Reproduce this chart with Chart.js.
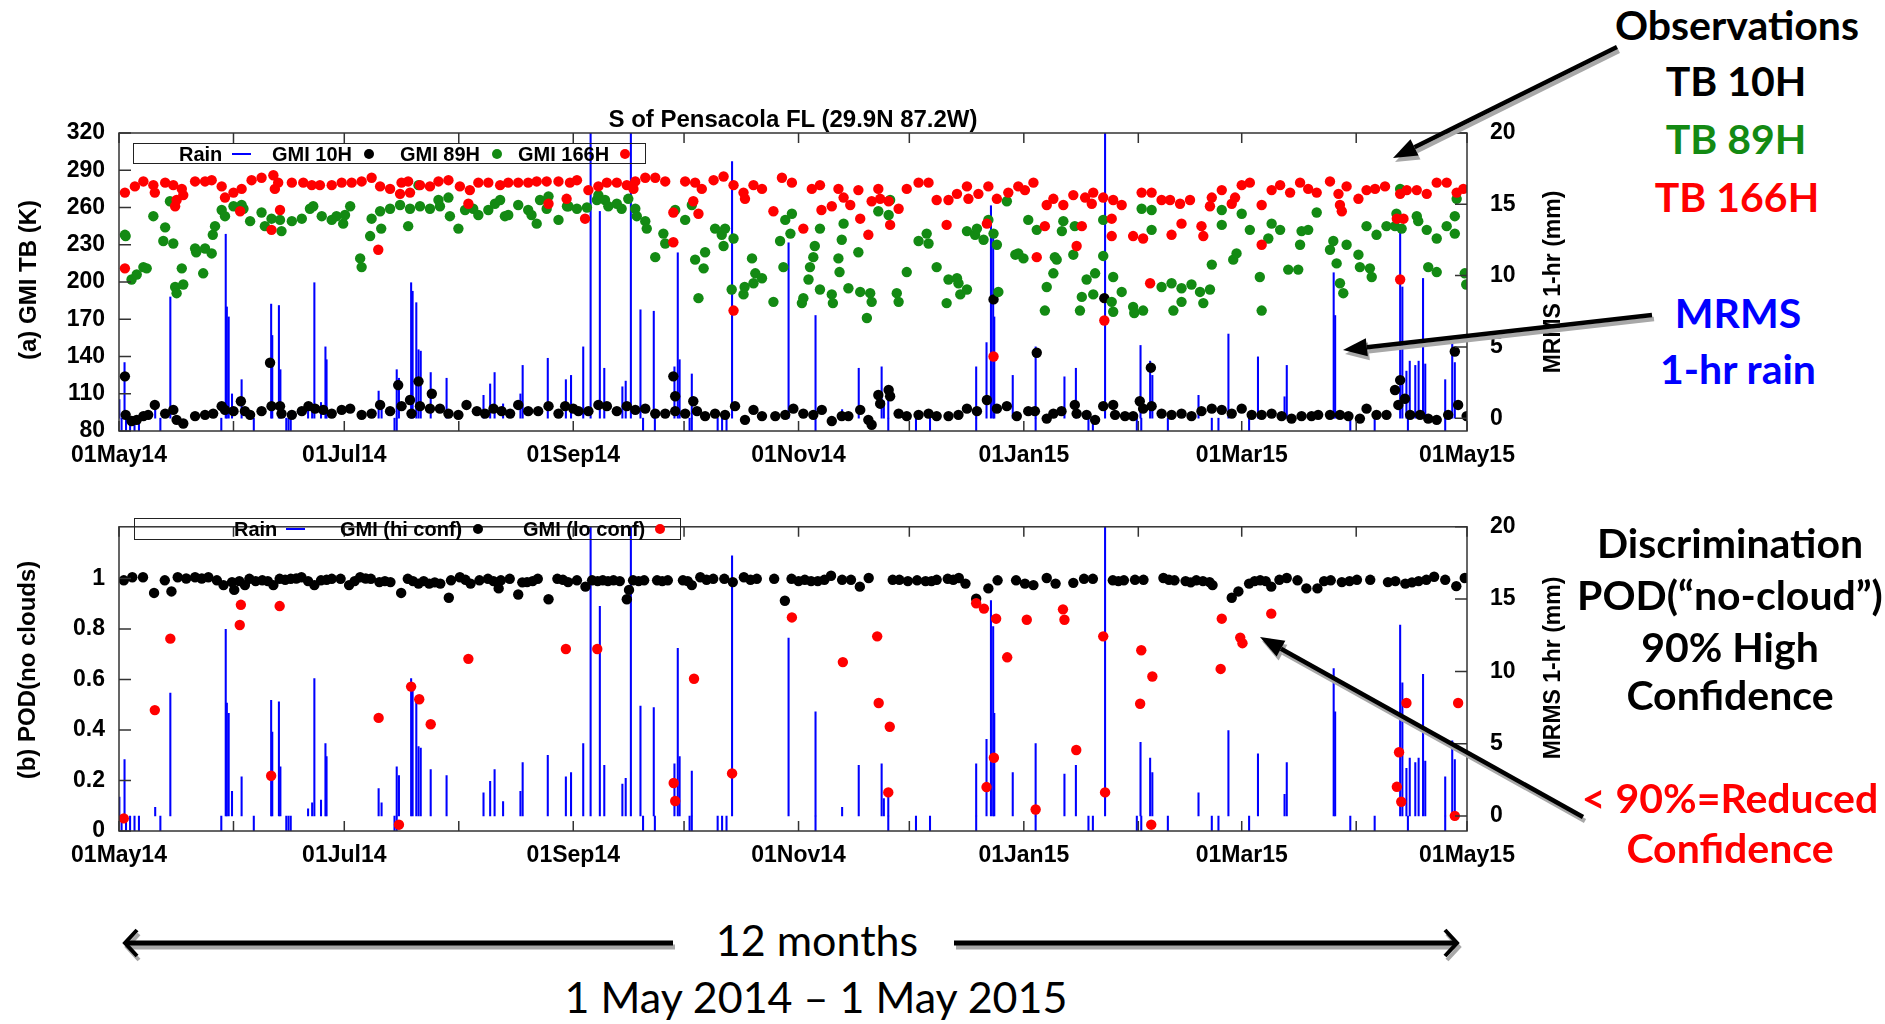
<!DOCTYPE html>
<html>
<head>
<meta charset="utf-8">
<title>GMI TB and POD, S of Pensacola FL</title>
<script src="https://cdn.jsdelivr.net/npm/chart.js@4.4.1/dist/chart.umd.min.js"></script>
<style>
  body { margin: 0; background: #fff; width: 1885px; height: 1024px; position: relative; overflow: hidden;
         font-family: "Liberation Sans", Arial, sans-serif; }
  canvas { position: absolute; left: 0; }
  #cA { top: 90px; }
  #cB { top: 490px; }
  .t { position: absolute; white-space: nowrap; transform: translate(-50%, -50%); line-height: 1; }
  .rot { transform: translate(-50%, -50%) rotate(-90deg); }
  .gp { font-weight: bold; font-size: 24px; color: #000; }
  .note { font-family: Lato, "Open Sans", sans-serif; font-weight: 700; font-size: 41px; }
  .big { font-family: Lato, "Open Sans", sans-serif; font-weight: 400; font-size: 43px; color: #000; }
  .box { position: absolute; border: 1.5px solid #222; box-sizing: border-box; }
  .lt { position: absolute; font-weight: bold; font-size: 20px; line-height: 1; transform: translateY(-50%); white-space: nowrap; }
  .dot { position: absolute; width: 10px; height: 10px; border-radius: 50%; transform: translate(-50%, -50%); }
  .ln { position: absolute; height: 2px; background: #0000ff; transform: translateY(-50%); }
  svg { position: absolute; left: 0; top: 0; }
</style>
</head>
<body>
<canvas id="cA" width="1600" height="390"></canvas>
<canvas id="cB" width="1600" height="390"></canvas>

<!-- panel (a) texts and legend -->
<div class="t gp" style="left:793px;top:119px;">S of Pensacola FL (29.9N 87.2W)</div>
<div class="t gp rot" style="left:28px;top:280px;">(a) GMI TB (K)</div>
<div class="t gp rot" style="left:1552px;top:282px;font-size:23px;">MRMS 1-hr (mm)</div>
<div class="box" style="left:133px;top:143px;width:513px;height:21px;"></div>
<div class="lt" style="left:179px;top:154px;">Rain</div>
<div class="ln" style="left:232px;top:154px;width:19px;"></div>
<div class="lt" style="left:272px;top:154px;">GMI 10H</div>
<div class="dot" style="left:369px;top:154px;background:#000;"></div>
<div class="lt" style="left:400px;top:154px;">GMI 89H</div>
<div class="dot" style="left:497px;top:154px;background:#138a13;"></div>
<div class="lt" style="left:518px;top:154px;">GMI 166H</div>
<div class="dot" style="left:625px;top:154px;background:#ff0000;"></div>

<!-- panel (b) texts and legend -->
<div class="t gp rot" style="left:27px;top:670px;">(b) POD(no clouds)</div>
<div class="t gp rot" style="left:1552px;top:668px;font-size:23px;">MRMS 1-hr (mm)</div>
<div class="box" style="left:134px;top:518px;width:547px;height:22px;"></div>
<div class="lt" style="left:234px;top:529px;">Rain</div>
<div class="ln" style="left:286px;top:529px;width:19px;"></div>
<div class="lt" style="left:340px;top:529px;">GMI (hi conf)</div>
<div class="dot" style="left:478px;top:529px;background:#000;"></div>
<div class="lt" style="left:523px;top:529px;">GMI (lo conf)</div>
<div class="dot" style="left:660px;top:529px;background:#ff0000;"></div>

<!-- notes on the right -->
<div class="t note" style="left:1737px;top:24px;color:#000;">Observations</div>
<div class="t note" style="left:1736px;top:80px;color:#000;">TB 10H</div>
<div class="t note" style="left:1736px;top:138px;color:#138a13;">TB 89H</div>
<div class="t note" style="left:1737px;top:196px;color:#ff0000;">TB 166H</div>
<div class="t note" style="left:1738px;top:312px;color:#0000ff;">MRMS</div>
<div class="t note" style="left:1738px;top:368px;color:#0000ff;">1-hr rain</div>
<div class="t note" style="left:1730px;top:542px;color:#000;">Discrimination</div>
<div class="t note" style="left:1730px;top:594px;color:#000;">POD(“no-cloud”)</div>
<div class="t note" style="left:1730px;top:646px;color:#000;">90% High</div>
<div class="t note" style="left:1730px;top:694px;color:#000;">Confidence</div>
<div class="t note" style="left:1730px;top:797px;color:#ff0000;">&lt; 90%=Reduced</div>
<div class="t note" style="left:1730px;top:847px;color:#ff0000;">Confidence</div>

<!-- time span below -->
<div class="t big" style="left:817px;top:939px;">12 months</div>
<div class="t big" style="left:816px;top:996px;">1 May 2014 – 1 May 2015</div>

<svg id="arrows" width="1885" height="1024"></svg>

<script>
// x axis is days since 01 May 2014
const monthDays = [0, 31, 61, 92, 123, 153, 184, 214, 245, 276, 304, 335, 365];
const monthLabels = ['01May14', '', '01Jul14', '', '01Sep14', '', '01Nov14', '', '01Jan15', '', '01Mar15', '', '01May15'];
const tbTicks = [80, 110, 140, 170, 200, 230, 260, 290, 320];
const podTicks = [0, 0.2, 0.4, 0.6, 0.8, 1];
const podLabels = ['0', '0.2', '0.4', '0.6', '0.8', '1'];
const rainTicks = [0, 5, 10, 15, 20];

// GMI brightness temperatures [day, K]
const tb10 = [[1.6,124],[1.8,93],[3.4,88],[4.8,89],[6.6,92],[7.9,93],[9.7,101],[12.5,94],[14.7,97],[15.6,89],[17.4,86],[20.6,92],[23.3,93],[25.5,94],[27.8,100],[28.7,97],[31.0,96],[33.0,104],[34.1,96],[35.5,93],[38.6,96],[40.9,135],[41.3,100],[43.6,100],[44.0,94],[46.8,93],[49.5,96],[51.3,100],[53.1,98],[55.3,97],[57.6,94],[60.3,97],[62.6,98],[65.7,93],[68.4,94],[70.7,101],[73.4,96],[75.6,117],[76.5,100],[78.8,105],[79.2,94],[81.1,120],[81.5,100],[84.2,98],[84.7,110],[86.9,98],[89.2,94],[91.9,93],[94.1,101],[96.9,96],[99.1,94],[101.4,98],[103.6,96],[105.9,94],[108.1,101],[110.8,96],[113.5,96],[116.3,100],[119.0,94],[120.8,100],[123.0,98],[124.4,96],[127.1,96],[129.8,101],[132.1,100],[134.8,96],[137.5,100],[139.8,97],[142.5,98],[145.2,94],[147.9,94],[150.1,124],[150.6,108],[150.6,96],[153.3,94],[155.5,104],[156.5,96],[158.7,92],[161.4,94],[164.1,93],[166.8,100],[169.5,89],[171.8,97],[174.1,92],[177.7,92],[180.4,93],[182.6,98],[185.3,94],[188.0,93],[190.3,97],[193.0,88],[195.7,92],[197.5,92],[200.7,97],[202.9,89],[203.8,85],[205.6,109],[206.1,102],[208.4,113],[208.8,108],[211.1,94],[213.3,92],[216.5,93],[219.2,94],[221.4,92],[224.6,92],[227.3,93],[229.6,98],[232.3,96],[235.0,105],[236.8,186],[237.7,98],[240.4,100],[243.1,92],[246.2,96],[248.0,96],[248.5,143],[251.2,90],[253.0,94],[255.2,96],[258.8,101],[259.3,94],[262.0,93],[264.3,89],[266.5,100],[266.8,187],[269.2,101],[269.7,93],[272.4,92],[274.6,92],[276.4,104],[277.3,98],[279.4,131],[279.6,100],[282.3,94],[285.0,93],[287.7,94],[290.4,92],[293.1,96],[295.9,98],[298.6,97],[301.3,94],[304.0,98],[306.7,93],[309.4,93],[312.1,94],[314.8,92],[317.5,90],[320.2,92],[322.9,92],[324.7,93],[327.9,93],[330.6,93],[332.9,92],[336.0,90],[337.8,98],[340.5,93],[343.2,93],[345.5,113],[346.4,101],[346.9,121],[348.2,106],[349.6,93],[352.3,93],[354.5,90],[356.8,89],[359.9,93],[361.7,144],[362.6,101],[364.9,92]];

const tb89 = [[1.6,238],[1.8,237],[3.4,202],[4.8,206],[6.6,212],[7.5,211],[9.3,253],[12.0,233],[12.5,244],[13.8,265],[14.7,231],[15.2,196],[15.6,191],[17.0,211],[17.4,198],[20.6,227],[20.9,224],[22.8,207],[23.3,227],[25.1,223],[25.4,238],[26.0,245],[27.8,258],[28.7,253],[31.0,261],[33.2,262],[33.7,259],[35.5,249],[38.6,256],[39.5,245],[41.3,251],[43.6,250],[44.0,241],[46.8,249],[49.5,251],[51.7,259],[52.6,261],[54.9,253],[57.6,250],[58.9,253],[60.7,247],[61.2,254],[62.6,261],[65.3,219],[65.7,212],[68.0,237],[68.4,251],[70.7,257],[71.0,243],[73.4,259],[76.1,262],[78.3,245],[78.8,259],[81.1,278],[81.5,261],[84.2,259],[86.5,266],[86.9,261],[89.2,268],[89.6,253],[91.9,243],[93.7,258],[95.9,259],[97.3,254],[100.0,258],[101.8,263],[103.2,266],[104.5,253],[105.4,254],[108.1,262],[110.8,258],[111.7,254],[113.1,247],[114.0,266],[115.8,259],[116.3,269],[119.0,250],[121.3,261],[121.7,261],[124.0,259],[126.7,260],[129.4,266],[129.8,270],[131.6,266],[132.5,261],[134.8,263],[136.1,259],[137.9,267],[139.8,259],[140.2,253],[142.5,249],[142.9,243],[145.2,220],[147.4,239],[147.9,231],[150.6,258],[153.3,250],[155.1,262],[156.0,218],[156.9,187],[158.3,211],[158.7,224],[161.4,243],[163.2,238],[163.7,229],[164.1,243],[165.9,194],[166.4,235],[169.1,190],[169.4,196],[171.4,219],[171.8,199],[172.3,207],[174.1,203],[177.2,184],[179.0,233],[179.9,212],[180.4,250],[181.8,239],[182.2,255],[184.9,183],[185.3,187],[186.7,202],[187.1,212],[188.0,220],[188.4,229],[189.8,194],[189.8,243],[193.0,190],[193.3,183],[194.8,219],[195.1,208],[195.7,234],[196.2,247],[197.5,195],[200.2,224],[200.7,192],[202.5,171],[203.4,191],[203.8,184],[205.6,257],[208.4,254],[208.8,266],[210.6,191],[211.1,184],[213.3,208],[216.5,233],[218.7,239],[219.2,231],[221.4,212],[224.1,183],[224.6,202],[226.9,203],[227.3,199],[227.8,190],[229.6,194],[229.6,241],[231.8,238],[232.3,243],[234.1,234],[235.4,250],[236.8,239],[237.7,230],[238.1,192],[240.4,265],[242.7,222],[243.5,223],[244.9,219],[246.2,250],[248.5,242],[250.7,177],[251.2,196],[253.0,207],[253.4,220],[253.9,218],[255.3,241],[255.7,249],[258.4,222],[258.8,245],[260.2,177],[260.7,188],[262.0,202],[263.8,190],[264.3,207],[266.5,250],[266.5,221],[268.8,184],[269.2,176],[269.2,204],[271.5,192],[274.6,180],[274.9,175],[276.9,259],[277.3,177],[279.6,258],[279.6,242],[282.3,196],[285.0,199],[285.5,177],[287.7,195],[287.7,184],[290.4,198],[292.7,192],[293.6,183],[295.4,194],[295.9,214],[298.6,258],[298.6,246],[301.7,218],[302.6,223],[304.0,255],[306.2,242],[308.9,204],[309.4,177],[311.2,235],[312.1,247],[314.4,242],[316.6,210],[319.3,210],[319.8,230],[320.2,241],[322.0,242],[324.3,256],[327.9,226],[328.8,233],[329.7,215],[330.6,199],[331.5,191],[332.4,230],[335.6,222],[336.0,212],[337.8,245],[338.7,211],[339.2,204],[340.5,238],[343.2,245],[345.5,245],[345.9,255],[346.9,275],[347.3,243],[351.4,253],[351.8,249],[354.1,242],[354.5,212],[356.8,208],[356.8,235],[359.5,245],[361.7,253],[361.7,239],[362.2,267],[364.4,207],[364.8,198]];

const tb166 = [[1.6,272],[1.6,211],[4.3,277],[6.6,281],[9.3,278],[9.7,272],[12.5,280],[14.7,278],[15.2,261],[15.6,266],[17.0,275],[17.4,270],[20.6,281],[23.3,281],[25.1,282],[27.8,277],[28.7,268],[31.0,272],[32.8,257],[33.2,275],[35.9,282],[38.6,284],[41.3,242],[41.8,286],[42.2,275],[43.1,280],[43.6,258],[46.8,280],[49.9,280],[52.2,278],[54.4,278],[57.6,278],[60.3,280],[63.0,280],[65.7,281],[68.4,284],[70.2,226],[70.7,277],[73.4,275],[76.1,271],[76.5,280],[78.3,281],[78.8,272],[81.5,278],[84.2,277],[86.5,281],[89.2,282],[92.3,277],[94.6,263],[95.0,274],[97.3,280],[100.0,280],[103.2,278],[105.4,280],[108.1,280],[110.8,280],[113.1,281],[115.8,281],[116.3,263],[119.0,281],[121.2,267],[122.1,280],[124.0,282],[126.2,251],[127.1,274],[129.8,277],[132.1,280],[134.8,280],[137.5,278],[139.3,275],[139.8,281],[142.5,284],[145.2,284],[147.9,281],[150.1,256],[150.1,232],[153.3,281],[155.5,265],[156.0,280],[156.9,255],[157.8,275],[161.0,282],[163.7,285],[166.4,278],[166.4,177],[169.1,272],[169.5,267],[171.8,278],[174.1,275],[177.2,257],[179.5,284],[182.2,280],[185.3,243],[187.6,275],[189.8,278],[190.2,258],[193.0,261],[194.8,275],[196.2,268],[198.0,262],[200.2,274],[200.7,251],[202.9,238],[203.8,265],[205.6,275],[206.1,267],[208.4,265],[208.8,246],[211.1,259],[213.3,275],[216.5,280],[219.2,280],[221.4,266],[224.1,246],[224.6,266],[226.9,271],[229.6,277],[230.0,267],[232.7,271],[235.0,247],[235.4,277],[236.8,140],[237.7,267],[240.8,272],[243.5,277],[245.3,274],[247.6,280],[248.5,220],[250.7,245],[251.2,262],[253.0,267],[255.7,262],[258.4,270],[259.3,229],[260.7,245],[261.6,268],[263.4,263],[263.8,272],[266.5,268],[266.8,169],[268.8,251],[268.8,237],[269.2,266],[271.5,262],[274.6,237],[276.9,272],[277.3,235],[279.2,199],[279.6,272],[282.3,266],[284.6,266],[285.0,238],[287.3,263],[287.7,247],[290.0,266],[293.1,245],[293.6,237],[295.4,261],[295.9,268],[298.6,274],[301.3,263],[302.2,268],[304.0,278],[306.2,280],[309.4,262],[309.4,230],[312.1,274],[314.4,278],[317.1,272],[319.8,280],[322.0,275],[324.3,272],[327.9,281],[330.2,271],[330.6,262],[331.1,257],[332.4,277],[335.6,267],[337.8,274],[340.1,275],[342.8,277],[346.0,251],[346.9,271],[346.9,202],[347.8,251],[348.7,274],[351.4,274],[354.1,271],[356.8,280],[359.5,280],[362.2,272],[364.0,275]];

// POD(no clouds) [day, POD]
const podHi = [[1.3,0.993],[3.6,1.005],[6.5,1.005],[9.5,0.943],[12.4,0.993],[14.2,0.949],[15.9,1.005],[18.2,1.0],[20.6,1.005],[22.4,1.0],[24.2,1.005],[26.5,0.993],[28.3,0.974],[30.6,0.986],[31.2,0.955],[32.6,0.99],[34.1,0.974],[35.3,0.999],[37.0,0.99],[38.8,0.993],[40.3,0.99],[41.8,0.974],[43.5,0.999],[45.0,0.995],[46.5,0.999],[48.0,1.0],[49.4,1.005],[51.2,0.99],[52.9,0.974],[54.7,0.993],[56.2,0.995],[57.6,0.999],[60.0,0.999],[62.3,0.974],[63.8,0.99],[65.3,1.005],[66.8,1.0],[68.2,0.999],[70.5,0.986],[72.0,0.99],[73.5,0.986],[76.4,0.943],[78.2,0.999],[79.6,0.99],[81.1,0.98],[82.5,0.99],[84.0,0.98],[85.5,0.985],[87.0,0.98],[89.3,0.924],[89.9,0.993],[92.3,1.005],[93.8,0.995],[95.2,0.98],[97.6,0.993],[99.9,0.999],[101.4,0.99],[102.8,0.961],[103.4,0.993],[105.8,0.999],[108.1,0.937],[109.2,0.985],[110.5,0.986],[112.0,0.99],[113.4,0.999],[116.3,0.918],[118.7,0.999],[120.2,0.995],[121.6,0.986],[124.0,0.993],[126.3,0.968],[128.1,0.993],[129.6,0.99],[131.0,0.993],[132.4,0.99],[133.9,0.993],[135.6,0.99],[137.5,0.918],[138.1,0.955],[139.2,0.993],[140.7,0.99],[142.2,0.993],[145.7,0.993],[147.1,0.99],[148.6,0.993],[152.7,0.993],[154.0,0.99],[155.1,0.974],[157.4,1.005],[159.1,0.995],[160.9,0.999],[163.9,0.999],[166.2,0.986],[169.2,1.005],[171.0,0.995],[172.7,0.999],[177.4,0.999],[180.3,0.912],[182.1,0.999],[184.0,0.99],[185.7,0.995],[187.4,0.99],[189.2,0.99],[191.0,0.995],[192.8,1.011],[195.8,0.995],[198.2,0.995],[200.6,0.968],[203.0,1.002],[209.5,0.995],[211.3,0.995],[213.6,0.99],[216.1,0.993],[218.4,0.99],[220.0,0.99],[221.4,0.995],[224.4,0.999],[225.9,0.995],[227.4,1.002],[229.2,0.98],[232.1,0.92],[235.4,0.961],[237.9,0.993],[242.9,0.993],[245.3,0.98],[247.6,0.974],[251.2,1.002],[253.6,0.98],[258.4,0.983],[261.3,0.999],[263.7,0.999],[269.1,0.993],[270.6,0.99],[272.1,0.993],[275.1,0.995],[277.4,0.995],[282.8,1.002],[284.3,0.995],[285.8,0.993],[288.8,0.99],[290.2,0.985],[291.7,0.993],[293.5,0.99],[295.3,0.986],[296.1,0.974],[301.3,0.924],[303.1,0.949],[306.0,0.98],[307.5,0.99],[309.0,0.993],[310.5,0.99],[312.0,0.968],[314.2,0.995],[316.2,1.002],[319.1,0.993],[321.5,0.961],[324.5,0.961],[326.3,0.99],[328.1,0.993],[331.1,0.986],[333.2,0.99],[335.2,0.995],[338.8,0.995],[343.6,0.986],[345.6,0.99],[348.3,0.98],[350.1,0.985],[351.9,0.99],[354.0,0.995],[356.1,1.007],[359.1,0.995],[362.1,0.97],[364.4,1.002]];

const podLo = [[1.3,0.05],[9.7,0.479],[13.9,0.762],[32.7,0.816],[33.0,0.896],[41.2,0.219],[43.5,0.891],[70.3,0.448],[75.8,0.025],[79.1,0.572],[81.3,0.522],[84.4,0.423],[94.6,0.682],[121.0,0.721],[129.5,0.721],[150.2,0.19],[150.6,0.119],[155.7,0.603],[166.0,0.228],[182.2,0.846],[196.0,0.669],[205.3,0.771],[205.7,0.507],[208.3,0.153],[208.7,0.413],[232.1,0.902],[234.2,0.881],[234.9,0.174],[236.9,0.29],[237.5,0.841],[240.5,0.688],[245.8,0.837],[248.2,0.085],[255.6,0.878],[256.0,0.837],[259.2,0.321],[266.5,0.771],[267.0,0.153],[276.5,0.504],[276.8,0.716],[279.5,0.025],[279.8,0.612],[298.3,0.642],[298.6,0.841],[303.6,0.766],[304.2,0.744],[312.0,0.861],[346.0,0.175],[346.6,0.312],[347.2,0.116],[348.6,0.507],[361.7,0.06],[362.6,0.507]];

// MRMS 1-hr rain peaks [day, mm]
const rain = [[0.1,1.3],[1.5,3.9],[9.8,0.6],[13.9,8.5],[28.9,12.9],[29.2,7.8],[29.7,7.1],[30.6,1.7],[33.2,2.7],[41.2,8.0],[41.5,5.8],[43.3,7.9],[43.7,3.4],[51.2,0.5],[52.3,0.9],[52.9,9.5],[54.7,1.1],[55.9,5.0],[56.2,4.1],[70.3,1.9],[71.1,0.9],[75.2,3.4],[75.8,2.8],[79.1,9.5],[79.5,8.9],[80.5,8.1],[81.1,4.8],[81.7,4.7],[84.4,3.2],[88.7,2.8],[98.7,1.6],[100.5,2.4],[101.7,3.2],[104.0,1.0],[108.7,1.7],[109.3,3.7],[116.1,4.2],[121.0,2.7],[122.4,3.0],[125.7,5.0],[127.7,25],[130.2,14.5],[131.4,3.5],[136.3,2.2],[137.2,2.6],[138.6,25],[141.2,7.6],[144.8,7.5],[150.4,3.6],[151.3,11.6],[151.8,4.1],[155.1,3.1],[166.0,18.0],[181.3,12.3],[188.6,7.2],[195.8,0.6],[200.3,3.5],[206.5,3.6],[207.1,1.2],[208.3,1.9],[232.1,3.6],[234.9,5.3],[236.1,14.9],[236.7,13.1],[237.0,7.1],[242.0,3.0],[248.2,5.0],[256.0,2.9],[259.1,3.5],[267.0,25],[276.6,5.1],[279.2,4.0],[279.8,3.0],[292.3,1.6],[300.4,5.9],[308.4,4.3],[315.6,1.5],[316.2,3.7],[328.9,10.2],[329.3,7.2],[346.9,13.2],[347.5,9.2],[348.6,3.3],[349.5,4.0],[351.0,3.7],[351.9,4.0],[353.1,9.8],[353.7,3.8],[359.1,2.7],[361.0,5.2],[361.7,3.9]];
// hours flagged missing (drawn below zero)
const rainMissing = [0.7,1.9,3.0,4.2,5.4,11.2,27.7,36.5,45.3,45.9,46.5,74.6,75.2,141.9,145.1,154.5,155.1,162.1,163.3,164.5,188.6,208.3,215.8,219.6,232.1,248.2,262.5,263.7,275.6,276.8,284.0,295.9,297.7,306.0,333.4,340.0,349.0,359.1];

const GREEN = '#138a13';
const tickFont = { family: '"Liberation Sans", Arial, sans-serif', size: 23, weight: 'bold' };

function pts(pairs) {
    return pairs.map(p => ({ x: p[0], y: p[1] }));
}

function dots(pairs, color, order) {
    return { type: 'scatter', data: pts(pairs), yAxisID: 'y', backgroundColor: color,
             borderWidth: 0, pointRadius: 5.2, pointHoverRadius: 5.2, order: order };
}

function rainBars() {
    var d = pts(rain).concat(rainMissing.map(v => ({ x: v, y: -3 })));
    return { type: 'bar', data: d, yAxisID: 'y2', backgroundColor: '#0000ff',
             barThickness: 1.4, grouped: false, order: 10 };
}

// gnuplot style frame with inward ticks
const frameTicks = {
    id: 'frameTicks',
    afterDatasetsDraw(chart) {
        var ctx = chart.ctx, a = chart.chartArea, s = chart.scales;
        ctx.save();
        ctx.strokeStyle = '#333';
        ctx.lineWidth = 1.5;
        ctx.beginPath();
        monthDays.forEach(d => {
            var x = s.x.getPixelForValue(d);
            ctx.moveTo(x, a.bottom); ctx.lineTo(x, a.bottom - 10);
            ctx.moveTo(x, a.top); ctx.lineTo(x, a.top + 10);
        });
        s.y.ticks.forEach(t => {
            var y = s.y.getPixelForValue(t.value);
            ctx.moveTo(a.left, y); ctx.lineTo(a.left + 12, y);
        });
        s.y2.ticks.forEach(t => {
            var y = s.y2.getPixelForValue(t.value);
            ctx.moveTo(a.right, y); ctx.lineTo(a.right - 12, y);
        });
        ctx.stroke();
        ctx.strokeRect(a.left, a.top, a.right - a.left, a.bottom - a.top);
        ctx.restore();
    }
};

function panel(id, o) {
    return new Chart(document.getElementById(id), {
        type: 'scatter',
        data: { datasets: o.datasets },
        options: {
            responsive: false,
            animation: false,
            devicePixelRatio: 1,
            layout: { padding: { top: o.padTop, left: 0, right: 0, bottom: 0 } },
            plugins: { legend: { display: false }, tooltip: { enabled: false } },
            scales: {
                x: {
                    type: 'linear', min: 0, max: 365, offset: false,
                    afterBuildTicks: s => { s.ticks = monthDays.map(v => ({ value: v })); },
                    afterFit: s => { s.height = 49; },
                    grid: { display: false, drawTicks: false }, border: { display: false },
                    ticks: { autoSkip: false, maxRotation: 0, padding: 11, color: '#000', font: tickFont,
                             callback: (v, i) => monthLabels[i] }
                },
                y: {
                    type: 'linear', position: 'left', min: o.yMin, max: o.yMax,
                    afterBuildTicks: s => { s.ticks = o.yTicks.map(v => ({ value: v })); },
                    afterFit: s => { s.width = 119; },
                    grid: { display: false, drawTicks: false }, border: { display: false },
                    ticks: { padding: 14, color: '#000', font: tickFont, callback: (v, i) => o.yLabels[i] }
                },
                y2: {
                    type: 'linear', position: 'right', min: o.rMin, max: 20,
                    afterBuildTicks: s => { s.ticks = rainTicks.map(v => ({ value: v })); },
                    afterFit: s => { s.width = 133; },
                    grid: { display: false, drawTicks: false }, border: { display: false },
                    ticks: { padding: 23, color: '#000', font: tickFont, callback: v => String(v) }
                }
            }
        },
        plugins: [frameTicks]
    });
}

panel('cA', {
    padTop: 43, yMin: 80, yMax: 320, rMin: -0.9,
    yTicks: tbTicks, yLabels: tbTicks.map(String),
    datasets: [rainBars(), dots(tb10, '#000', 3), dots(tb89, GREEN, 2), dots(tb166, '#ff0000', 1)]
});

panel('cB', {
    padTop: 18, yMin: 0, yMax: 1.205, rMin: -1.04,
    yTicks: podTicks, yLabels: podLabels,
    datasets: [rainBars(), dots(podHi, '#000', 2), dots(podLo, '#ff0000', 1)]
});

// call-out arrows
var svg = document.getElementById('arrows');
var NS = 'http://www.w3.org/2000/svg';

function el(name, attrs) {
    var e = document.createElementNS(NS, name);
    for (var k in attrs) e.setAttribute(k, attrs[k]);
    svg.appendChild(e);
    return e;
}

function pointer(x1, y1, x2, y2) {
    var len = Math.hypot(x2 - x1, y2 - y1);
    var ux = (x2 - x1) / len, uy = (y2 - y1) / len;
    var bx = x2 - ux * 24, by = y2 - uy * 24;
    var nx = -uy * 9, ny = ux * 9;
    [['#a8a8a8', 2, 4], ['#000', 0, 0]].forEach(function (c) {
        el('line', { x1: x1 + c[1], y1: y1 + c[2], x2: bx + c[1], y2: by + c[2], stroke: c[0], 'stroke-width': 4.5 });
        el('polygon', { points: [x2 + c[1], y2 + c[2], bx + nx + c[1], by + ny + c[2], bx - nx + c[1], by - ny + c[2]].join(' '), fill: c[0] });
    });
}

pointer(1617, 47, 1393, 158);
pointer(1652, 315, 1343, 350);
pointer(1583, 817, 1260, 637);

// 12 month span arrows
function span(x1, x2, tipLeft) {
    [['#a8a8a8', 2, 4], ['#000', 0, 0]].forEach(function (c) {
        el('line', { x1: x1 + c[1], y1: 943 + c[2], x2: x2 + c[1], y2: 943 + c[2], stroke: c[0], 'stroke-width': 5 });
        var tx = tipLeft ? x1 : x2, d = tipLeft ? 12 : -12;
        el('polyline', { points: [tx + d + c[1], 930 + c[2], tx + c[1], 943 + c[2], tx + d + c[1], 956 + c[2]].join(' '),
                         fill: 'none', stroke: c[0], 'stroke-width': 4 });
    });
}
span(125, 673, true);
span(954, 1457, false);
</script>
</body>
</html>
